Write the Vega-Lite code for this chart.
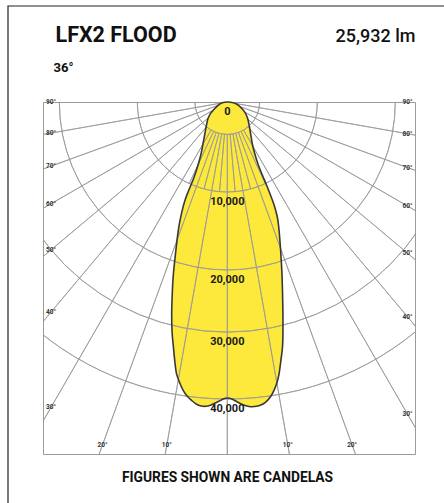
{
  "$schema": "https://vega.github.io/schema/vega-lite/v6.json",
  "width": 372,
  "height": 352,
  "autosize": {"type": "none"},
  "padding": {"left": 43, "top": 102, "right": 29, "bottom": 49},
  "background": "white",
  "config": {"view": {"stroke": "#9a9a9a", "strokeWidth": 1}, "font": "Roboto"},
  "datasets": {
    "shape": [
      {"i": 0, "a": 0, "cd": 0},
      {"i": 1, "a": 84.3, "cd": 560}, {"i": 2, "a": 76.0, "cd": 1150}, {"i": 3, "a": 65.9, "cd": 1770},
      {"i": 4, "a": 58.6, "cd": 2340}, {"i": 5, "a": 50.3, "cd": 2960}, {"i": 6, "a": 42.5, "cd": 3620},
      {"i": 7, "a": 35.5, "cd": 4500}, {"i": 8, "a": 30.8, "cd": 5430}, {"i": 9, "a": 27.9, "cd": 6540},
      {"i": 10, "a": 26.2, "cd": 7800}, {"i": 11, "a": 25.6, "cd": 9120}, {"i": 12, "a": 25.2, "cd": 10510},
      {"i": 13, "a": 24.5, "cd": 12830}, {"i": 14, "a": 23.5, "cd": 14540}, {"i": 15, "a": 22.0, "cd": 16160},
      {"i": 16, "a": 19.8, "cd": 18630}, {"i": 17, "a": 17.8, "cd": 21700}, {"i": 18, "a": 16.2, "cd": 24820},
      {"i": 19, "a": 14.7, "cd": 28260}, {"i": 20, "a": 13.6, "cd": 30990}, {"i": 21, "a": 12.7, "cd": 33150},
      {"i": 22, "a": 11.6, "cd": 35290}, {"i": 23, "a": 10.8, "cd": 36940}, {"i": 24, "a": 10.0, "cd": 38260},
      {"i": 25, "a": 9.2, "cd": 39260}, {"i": 26, "a": 8.3, "cd": 40170}, {"i": 27, "a": 7.3, "cd": 40820},
      {"i": 28, "a": 6.2, "cd": 41210}, {"i": 29, "a": 5.1, "cd": 41310}, {"i": 30, "a": 4.1, "cd": 41240},
      {"i": 31, "a": 3.2, "cd": 41010}, {"i": 32, "a": 2.4, "cd": 40680}, {"i": 33, "a": 1.6, "cd": 40320},
      {"i": 34, "a": 0.9, "cd": 40000}, {"i": 35, "a": 0, "cd": 39850},
      {"i": 36, "a": -0.8, "cd": 40000}, {"i": 37, "a": -1.6, "cd": 40360}, {"i": 38, "a": -2.4, "cd": 40680},
      {"i": 39, "a": -3.2, "cd": 41010}, {"i": 40, "a": -4.0, "cd": 41200}, {"i": 41, "a": -4.9, "cd": 41210},
      {"i": 42, "a": -5.9, "cd": 40980}, {"i": 43, "a": -6.8, "cd": 40540}, {"i": 44, "a": -7.8, "cd": 39960},
      {"i": 45, "a": -8.7, "cd": 39200}, {"i": 46, "a": -9.6, "cd": 38210}, {"i": 47, "a": -10.6, "cd": 36910},
      {"i": 48, "a": -11.4, "cd": 35260}, {"i": 49, "a": -12.4, "cd": 33120}, {"i": 50, "a": -13.5, "cd": 30980},
      {"i": 51, "a": -14.7, "cd": 28250}, {"i": 52, "a": -15.8, "cd": 25580}, {"i": 53, "a": -17.2, "cd": 22440},
      {"i": 54, "a": -18.6, "cd": 19440}, {"i": 55, "a": -20.9, "cd": 16070}, {"i": 56, "a": -22.3, "cd": 13990},
      {"i": 57, "a": -23.3, "cd": 12180}, {"i": 58, "a": -23.6, "cd": 10630}, {"i": 59, "a": -23.8, "cd": 9230},
      {"i": 60, "a": -24.8, "cd": 7830}, {"i": 61, "a": -26.6, "cd": 6580}, {"i": 62, "a": -30.1, "cd": 5390},
      {"i": 63, "a": -35.1, "cd": 4350}, {"i": 64, "a": -41.2, "cd": 3540}, {"i": 65, "a": -48.9, "cd": 2870},
      {"i": 66, "a": -55.2, "cd": 2300}, {"i": 67, "a": -60.9, "cd": 1720}, {"i": 68, "a": -69.8, "cd": 1130},
      {"i": 69, "a": -80.9, "cd": 560}
    ],
    "spokesIn": [
      {"a": -90, "r0": 0, "r1": 3600}, {"a": -80, "r0": 0, "r1": 3600}, {"a": -70, "r0": 0, "r1": 3600},
      {"a": -60, "r0": 0, "r1": 3600}, {"a": -50, "r0": 0, "r1": 3600}, {"a": -40, "r0": 0, "r1": 3600},
      {"a": -30, "r0": 0, "r1": 3600}, {"a": -20, "r0": 0, "r1": 3600}, {"a": -10, "r0": 0, "r1": 3600},
      {"a": 0, "r0": 0, "r1": 3600}, {"a": 10, "r0": 0, "r1": 3600}, {"a": 20, "r0": 0, "r1": 3600},
      {"a": 30, "r0": 0, "r1": 3600}, {"a": 40, "r0": 0, "r1": 3600}, {"a": 50, "r0": 0, "r1": 3600},
      {"a": 60, "r0": 0, "r1": 3600}, {"a": 70, "r0": 0, "r1": 3600}, {"a": 80, "r0": 0, "r1": 3600},
      {"a": 90, "r0": 0, "r1": 3600}
    ],
    "spokesOut": [
      {"a": -90, "r0": 3600, "r1": 90000}, {"a": -80, "r0": 3600, "r1": 90000}, {"a": -70, "r0": 3600, "r1": 90000},
      {"a": -60, "r0": 3600, "r1": 90000}, {"a": -50, "r0": 3600, "r1": 90000}, {"a": -40, "r0": 3600, "r1": 90000},
      {"a": -30, "r0": 3600, "r1": 90000}, {"a": -20, "r0": 3600, "r1": 90000}, {"a": -10, "r0": 3600, "r1": 90000},
      {"a": 0, "r0": 3600, "r1": 90000}, {"a": 10, "r0": 3600, "r1": 90000}, {"a": 20, "r0": 3600, "r1": 90000},
      {"a": 30, "r0": 3600, "r1": 90000}, {"a": 40, "r0": 3600, "r1": 90000}, {"a": 50, "r0": 3600, "r1": 90000},
      {"a": 60, "r0": 3600, "r1": 90000}, {"a": 70, "r0": 3600, "r1": 90000}, {"a": 80, "r0": 3600, "r1": 90000},
      {"a": 90, "r0": 3600, "r1": 90000},
      {"a": -25, "r0": 3600, "r1": 10000}, {"a": -15, "r0": 3600, "r1": 10000}, {"a": -5, "r0": 3600, "r1": 10000},
      {"a": 5, "r0": 3600, "r1": 10000}, {"a": 15, "r0": 3600, "r1": 10000}, {"a": 25, "r0": 3600, "r1": 10000}
    ],
    "rings": [{"cd": 3600}, {"cd": 10000}, {"cd": 20000}, {"cd": 30000}, {"cd": 40000}],
    "ringLabels": [
      {"cd": 0, "label": "0"}, {"cd": 10000, "label": "10,000"}, {"cd": 20000, "label": "20,000"},
      {"cd": 30000, "label": "30,000"}, {"cd": 40000, "label": "40,000"}
    ],
    "angleLabels": [
      {"a": -90, "label": "90°"}, {"a": -80, "label": "80°"}, {"a": -70, "label": "70°"}, {"a": -60, "label": "60°"},
      {"a": -50, "label": "50°"}, {"a": -40, "label": "40°"}, {"a": -30, "label": "30°"}, {"a": -20, "label": "20°"},
      {"a": -10, "label": "10°"}, {"a": 10, "label": "10°"}, {"a": 20, "label": "20°"}, {"a": 30, "label": "30°"},
      {"a": 40, "label": "40°"}, {"a": 50, "label": "50°"}, {"a": 60, "label": "60°"}, {"a": 70, "label": "70°"},
      {"a": 80, "label": "80°"}, {"a": 90, "label": "90°"}
    ],
    "box": [{"x1": -29536, "x2": 31340, "y1": -12929, "y2": 56296}]
  },
  "layer": [
    {
      "data": {"name": "spokesIn"},
      "mark": {"type": "arc", "filled": false, "stroke": "#999999", "strokeWidth": 0.8, "clip": true},
      "encoding": {
        "x": {"datum": 0, "type": "quantitative", "scale": {"domain": [-24822, 25279], "nice": false, "zero": false}, "axis": null},
        "y": {"datum": 0, "type": "quantitative", "scale": {"domain": [0, 47407], "nice": false, "zero": false, "reverse": true}, "axis": null},
        "theta": {"field": "a", "type": "quantitative", "scale": {"type": "linear", "domain": [-90, 90], "range": [4.712389, 1.570796]}},
        "theta2": {"field": "a"},
        "radius": {"field": "r1", "type": "quantitative", "scale": {"type": "linear", "domain": [0, 10000, 20000, 30000, 40000], "range": [0, 90, 168, 230, 297]}},
        "radius2": {"field": "r0"}
      }
    },
    {
      "data": {"name": "shape"},
      "transform": [
        {"calculate": "datum.cd <= 10000 ? datum.cd * 1.21212 : datum.cd <= 20000 ? 12121.2 + (datum.cd - 10000) * 1.0505 : datum.cd <= 30000 ? 22626.3 + (datum.cd - 20000) * 0.83502 : 30976.4 + (datum.cd - 30000) * 0.90236", "as": "w"},
        {"calculate": "datum.w * sin(datum.a * PI / 180)", "as": "x"},
        {"calculate": "datum.w * cos(datum.a * PI / 180)", "as": "y"}
      ],
      "mark": {"type": "line", "fill": "#FDE93B", "strokeOpacity": 0, "interpolate": "cardinal-closed"},
      "encoding": {
        "x": {"field": "x", "type": "quantitative", "axis": {"orient": "top", "title": "LFX2 FLOOD", "labels": false, "ticks": false, "domain": false, "grid": false, "titleFont": "Roboto", "titleFontSize": 21.5, "titleFontWeight": "bold", "titleColor": "#111111", "titleAlign": "left", "titleBaseline": "alphabetic", "titleX": 12, "titleY": -61}},
        "y": {"field": "y", "type": "quantitative", "axis": {"orient": "left", "title": "36°", "labels": false, "ticks": false, "domain": false, "grid": false, "titleAngle": 0, "titleFont": "Roboto", "titleFontSize": 13, "titleFontWeight": "bold", "titleColor": "#111111", "titleAlign": "left", "titleBaseline": "alphabetic", "titleX": 10, "titleY": -31}},
        "order": {"field": "i", "type": "quantitative"}
      }
    },
    {
      "data": {"name": "rings"},
      "mark": {"type": "arc", "theta": 1.570796, "theta2": 4.712389, "filled": false, "stroke": "#999999", "strokeWidth": 0.8, "clip": true},
      "encoding": {
        "x": {"datum": 0, "type": "quantitative", "axis": null},
        "y": {"datum": 0, "type": "quantitative", "axis": null},
        "radius": {"field": "cd", "type": "quantitative"},
        "radius2": {"field": "cd"}
      }
    },
    {
      "data": {"name": "spokesOut"},
      "mark": {"type": "arc", "filled": false, "stroke": "#999999", "strokeWidth": 0.8, "clip": true},
      "encoding": {
        "x": {"datum": 0, "type": "quantitative", "axis": null},
        "y": {"datum": 0, "type": "quantitative", "axis": null},
        "theta": {"field": "a", "type": "quantitative"},
        "theta2": {"field": "a"},
        "radius": {"field": "r1", "type": "quantitative"},
        "radius2": {"field": "r0"}
      }
    },
    {
      "data": {"name": "shape"},
      "transform": [
        {"calculate": "datum.cd <= 10000 ? datum.cd * 1.21212 : datum.cd <= 20000 ? 12121.2 + (datum.cd - 10000) * 1.0505 : datum.cd <= 30000 ? 22626.3 + (datum.cd - 20000) * 0.83502 : 30976.4 + (datum.cd - 30000) * 0.90236", "as": "w"},
        {"calculate": "datum.w * sin(datum.a * PI / 180)", "as": "x"},
        {"calculate": "datum.w * cos(datum.a * PI / 180)", "as": "y"}
      ],
      "mark": {"type": "line", "stroke": "#383838", "strokeWidth": 1.6, "interpolate": "cardinal-closed"},
      "encoding": {
        "x": {"field": "x", "type": "quantitative", "axis": {"orient": "top", "title": "25,932 lm", "labels": false, "ticks": false, "domain": false, "grid": false, "titleFont": "Roboto", "titleFontSize": 18, "titleFontWeight": 500, "titleColor": "#111111", "titleAlign": "right", "titleBaseline": "alphabetic", "titleX": 372, "titleY": -61}},
        "y": {"field": "y", "type": "quantitative", "axis": null},
        "order": {"field": "i", "type": "quantitative"}
      }
    },
    {
      "data": {"name": "ringLabels"},
      "transform": [
        {"calculate": "datum.cd <= 10000 ? datum.cd * 1.21212 : datum.cd <= 20000 ? 12121.2 + (datum.cd - 10000) * 1.0505 : datum.cd <= 30000 ? 22626.3 + (datum.cd - 20000) * 0.83502 : 30976.4 + (datum.cd - 30000) * 0.90236", "as": "w"}
      ],
      "mark": {"type": "text", "font": "Roboto", "fontSize": 11, "fontWeight": "bold", "color": "#1a1a1a", "align": "center", "baseline": "middle", "dy": 10},
      "encoding": {
        "x": {"datum": 0, "type": "quantitative", "axis": {"orient": "bottom", "title": "FIGURES SHOWN ARE CANDELAS", "labels": false, "ticks": false, "domain": false, "grid": false, "titleFont": "Roboto", "titleFontSize": 13.8, "titleFontWeight": "bold", "titleColor": "#111111", "titleAlign": "center", "titleBaseline": "alphabetic", "titleX": 184, "titleY": 27}},
        "y": {"field": "w", "type": "quantitative", "axis": null},
        "text": {"field": "label"}
      }
    },
    {
      "data": {"name": "angleLabels"},
      "transform": [
        {"calculate": "datum.a * PI / 180", "as": "t"},
        {"calculate": "min((datum.a < 0 ? 23744 : 24270) / max(abs(sin(datum.t)), 0.000001), 46195 / max(cos(datum.t), 0.000001))", "as": "rr"},
        {"calculate": "datum.rr * sin(datum.t)", "as": "lx"},
        {"calculate": "datum.rr * cos(datum.t)", "as": "ly"}
      ],
      "mark": {"type": "text", "font": "Roboto", "fontSize": 6.5, "fontWeight": "bold", "color": "#333333", "align": "center", "baseline": "middle"},
      "encoding": {
        "x": {"field": "lx", "type": "quantitative", "axis": null},
        "y": {"field": "ly", "type": "quantitative", "axis": null},
        "text": {"field": "label"}
      }
    },
    {
      "data": {"name": "box"},
      "mark": {"type": "rect", "filled": false, "stroke": "#222222", "strokeWidth": 1.2, "clip": false},
      "encoding": {
        "x": {"field": "x1", "type": "quantitative", "axis": null},
        "x2": {"field": "x2"},
        "y": {"field": "y1", "type": "quantitative", "axis": null},
        "y2": {"field": "y2"}
      }
    }
  ],
  "resolve": {"axis": {"x": "independent", "y": "independent"}}
}
